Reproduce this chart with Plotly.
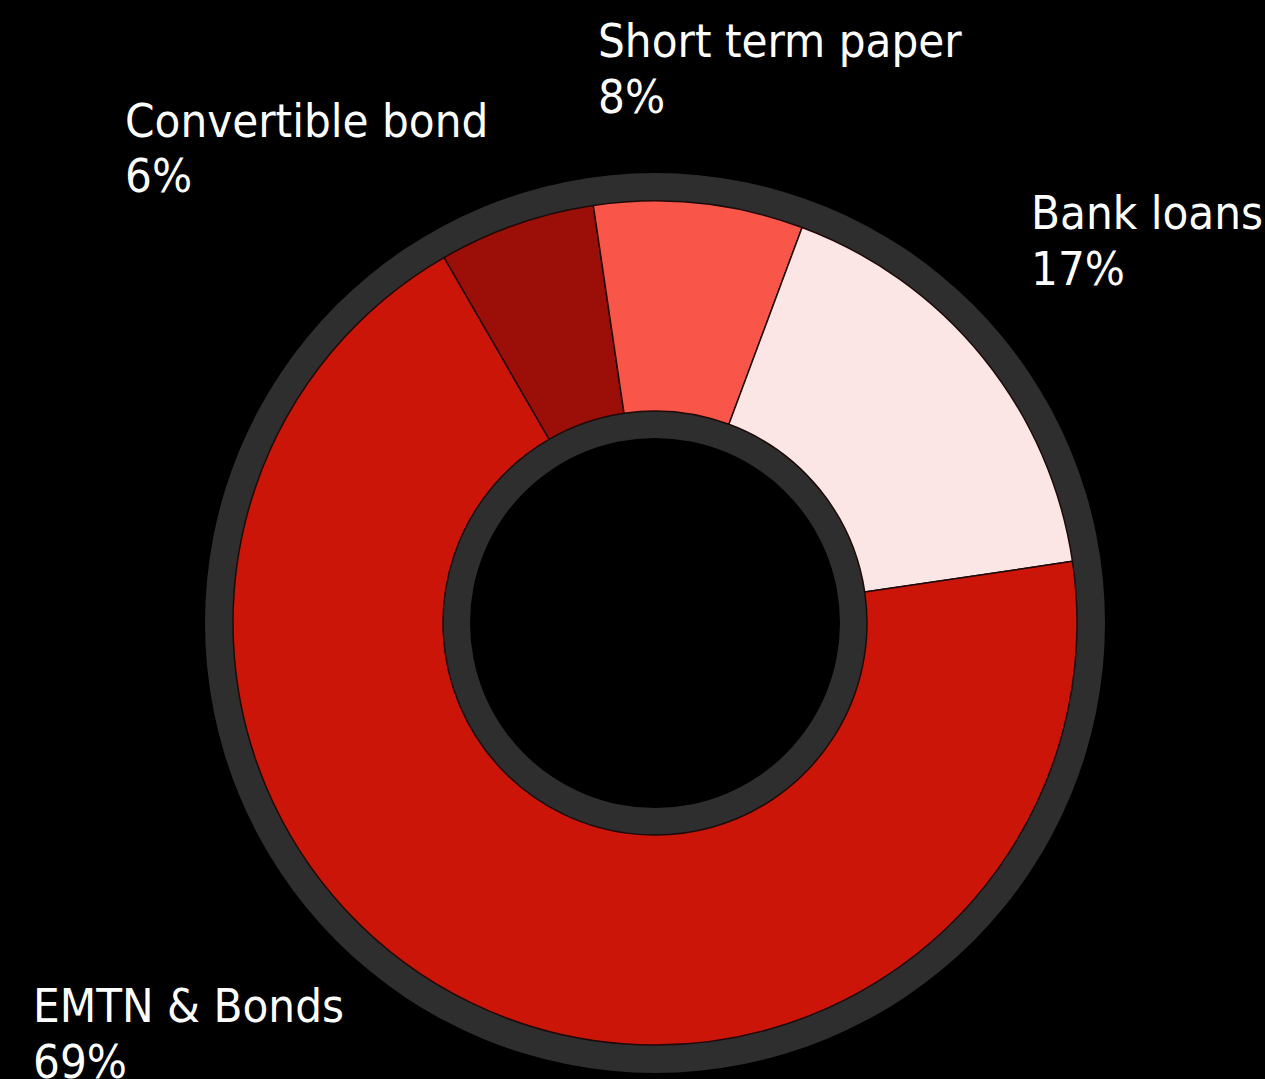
import plotly.graph_objects as go

# Funding sources (share of total, %)
categories = ["Convertible bond", "Short term paper", "Bank loans", "EMTN & Bonds"]
shares = [6, 8, 17, 69]
slice_colors = ["#9c0e08", "#fa5549", "#fce6e5", "#cc1509"]

W, H = 1265, 1079
CX, CY = 655, 623          # ring centre in pixels
R_FRAME, R_HOLE = 450, 185  # grey frame outer radius / black hole radius
R_OUT, R_IN = 422, 212      # coloured ring radii


def domain(r):
    return dict(
        x=[(CX - r) / W, (CX + r) / W],
        y=[1 - (CY + r) / H, 1 - (CY - r) / H],
    )


fig = go.Figure()

# dark grey frame behind the coloured ring (shows as outer rim and inner rim)
fig.add_trace(go.Pie(
    values=[1],
    marker=dict(colors=["#2e2e2e"], line=dict(width=0)),
    hole=R_HOLE / R_FRAME,
    domain=domain(R_FRAME),
    textinfo="none",
    hoverinfo="skip",
    sort=False,
    showlegend=False,
))

# coloured donut
fig.add_trace(go.Pie(
    labels=categories,
    values=shares,
    marker=dict(colors=slice_colors, line=dict(color="#1e0a08", width=1.5)),
    hole=R_IN / R_OUT,
    domain=domain(R_OUT),
    direction="clockwise",
    rotation=-30,
    sort=False,
    textinfo="none",
    showlegend=False,
))

# outside labels: (name line baseline, percent line baseline, left x)
label_pos = {
    "Short term paper": (598, 57, 113),
    "Convertible bond": (125, 137, 192),
    "Bank loans": (1031, 229, 285),
    "EMTN & Bonds": (33, 1022, 1078),
}

FS = 47
FONT = dict(family="DejaVu Sans Condensed, Liberation Sans, sans-serif", size=FS, color="white")
annotations = []
for name, share in zip(categories, shares):
    x, b1, b2 = label_pos[name]
    for txt, base in ((name, b1), (f"{share}%", b2)):
        mid = base - 0.346 * FS
        annotations.append(dict(
            text=txt, x=(x - 2) / W, y=1 - mid / H,
            xref="paper", yref="paper", xanchor="left", yanchor="middle",
            showarrow=False, font=FONT,
        ))

fig.update_layout(
    width=W, height=H,
    margin=dict(l=0, r=0, t=0, b=0),
    paper_bgcolor="black",
    plot_bgcolor="black",
    annotations=annotations,
)

fig.write_html("out.html")
